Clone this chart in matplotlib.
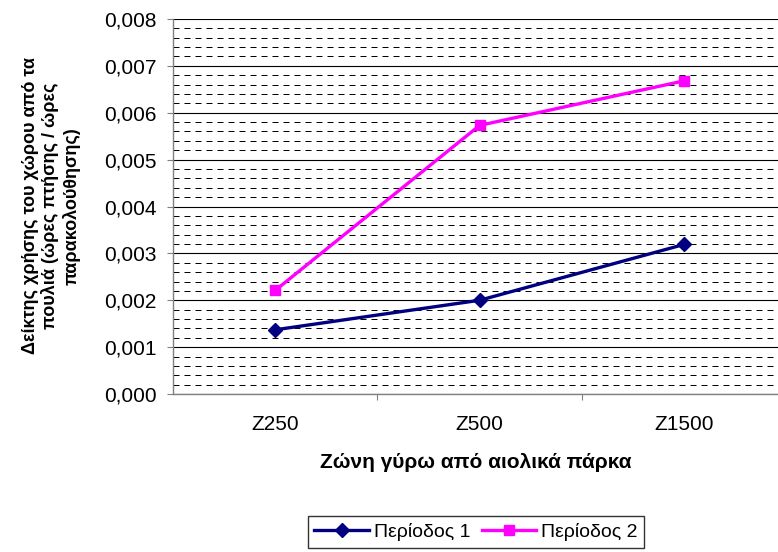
import matplotlib.pyplot as plt
from matplotlib.ticker import MultipleLocator, FixedLocator, FuncFormatter, NullFormatter

plt.rcParams['font.family'] = ['Liberation Sans', 'DejaVu Sans']

# zones round the wind farms and the space-use index per period
zones = ['Z250', 'Z500', 'Z1500']
periodos_1 = [0.00137, 0.00200, 0.00319]
periodos_2 = [0.00221, 0.00573, 0.00668]

fig = plt.figure(figsize=(7.78, 5.52), dpi=100)
ax = fig.add_axes([0.2224, 0.2862, 0.7776, 0.6794])

x = list(range(len(zones)))
ax.plot(x, periodos_1, color='#000080', lw=2.4, marker='D', ms=7,
        label='Περίοδος 1', zorder=3)
ax.plot(x, periodos_2, color='#FF00FF', lw=2.4, marker='s', ms=7,
        label='Περίοδος 2', zorder=3)

ax.set_xlim(-0.5, 2.46)
ax.set_ylim(0, 0.008)

# grid: solid every 0.001, dashed every 0.0002
ax.yaxis.set_major_locator(MultipleLocator(0.001))
ax.yaxis.set_minor_locator(MultipleLocator(0.0002))
ax.yaxis.set_major_formatter(FuncFormatter(lambda v, p: f'{v:.3f}'.replace('.', ',')))
ax.grid(which='major', axis='y', color='black', lw=0.8)
ax.grid(which='minor', axis='y', color='black', lw=0.72, linestyle=(0, (6, 5)))
ax.set_axisbelow(True)

# category boundaries get tick marks, the names sit between them
ax.xaxis.set_major_locator(FixedLocator([0.5, 1.5]))
ax.xaxis.set_major_formatter(NullFormatter())
ax.xaxis.set_minor_locator(FixedLocator(x))
ax.xaxis.set_minor_formatter(FuncFormatter(lambda v, p: zones[int(round(v))]))

ax.tick_params(axis='x', which='major', length=4, color='#808080')
ax.tick_params(axis='x', which='minor', length=0, pad=15, labelsize=15)
ax.tick_params(axis='y', which='major', length=4, color='#808080', pad=8, labelsize=15)
ax.tick_params(axis='y', which='minor', length=0)

for s in ['top', 'right']:
    ax.spines[s].set_visible(False)
for s in ['left', 'bottom']:
    ax.spines[s].set_color('#808080')
    ax.spines[s].set_linewidth(1.0)

fig.text(51 / 778, 0.627,
         'Δείκτης χρήσης του χώρου από τα\nπουλιά (ώρες πτήσης / ώρες\nπαρακολούθησης)',
         rotation=90, ha='center', va='center', multialignment='center',
         fontsize=13, fontweight='bold')
fig.text(476 / 778, 1 - 463 / 552, 'Ζώνη γύρω από αιολικά πάρκα',
         ha='center', va='center', fontsize=15, fontweight='bold')

leg = fig.legend(loc='center', bbox_to_anchor=(476 / 778, 1 - 532 / 552), ncol=2,
                 fontsize=14, frameon=True, fancybox=False, edgecolor='black',
                 handlelength=2.8, handletextpad=0.26, columnspacing=0.57,
                 borderpad=0.35)
leg.get_frame().set_linewidth(1.0)

fig.savefig('out.png', dpi=100)
